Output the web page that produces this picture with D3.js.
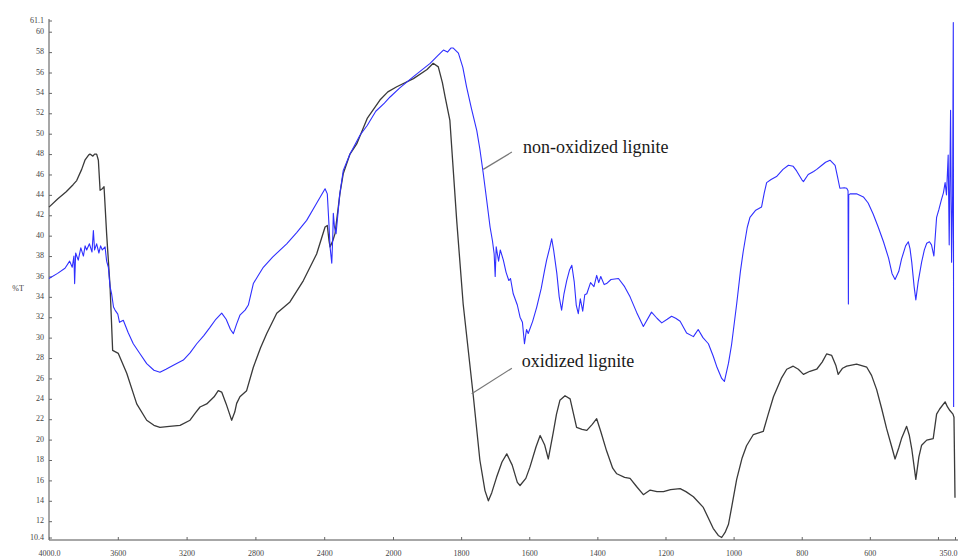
<!DOCTYPE html>
<html>
<head>
<meta charset="utf-8">
<script src="https://cdn.jsdelivr.net/npm/d3@7"></script>
<style>
  body { margin: 0; background: #fff; }
  svg { display: block; font-family: "Liberation Serif", "Times New Roman", serif; }
</style>
</head>
<body>
<div id="graph"></div>
<script>
//wavenumbers and %T
let blueWn = [4000,3950,3907,3880,3865,3855,3851,3845,3830,3815,3800,3790,3781,3765,3750,3742,3735,3723,3710,3700,3690,3674,3665,3655,3645,3636,3625,3616,3600,3590,3568,3540,3510,3470,3432,3390,3355,3320,3277,3219,3180,3141,3100,3064,3030,2996,2970,2945,2928,2910,2890,2860,2841,2812,2780,2754,2700,2618,2560,2502,2450,2395,2382,2372,2366,2356,2350,2347,2340,2331,2310,2289,2250,2192,2150,2100,2050,2017,1980,1940,1891,1870,1852,1840,1830,1823,1808,1795,1784,1770,1754,1745,1735,1725,1715,1708,1703,1700,1697,1690,1685,1676,1668,1660,1655,1647,1635,1627,1620,1614,1608,1603,1590,1578,1565,1555,1549,1540,1534,1528,1519,1512,1505,1498,1490,1482,1475,1468,1462,1456,1450,1443,1437,1431,1420,1410,1402,1396,1390,1380,1373,1360,1338,1320,1304,1285,1265,1241,1225,1211,1195,1182,1170,1157,1138,1118,1104,1090,1074,1060,1050,1035,1027,1015,1006,991,980,972,960,952,935,918,910,903,890,874,855,839,825,815,800,795,781,765,756,741,730,717,702,695,688,675,668,664,663,662,658,639,619,605,590,575,560,545,535,526,515,507,495,487,482,477,470,465,458,448,440,433,425,419,412,404,397,390,384,379,375,370,367,363,360,357,355,354];
let blueT = [35.8,36.3,36.8,37.5,36.9,38.0,35.3,38.3,37.6,38.8,38.0,39.0,38.6,39.2,38.4,40.5,38.6,39.2,38.3,39.0,38.6,38.9,37.5,36.9,35.0,34.3,33.0,32.7,32.3,31.5,31.7,30.5,29.4,28.4,27.45,26.8,26.6,26.9,27.3,27.8,28.5,29.4,30.2,31.0,31.8,32.4,31.8,30.8,30.4,31.3,32.2,32.7,33.2,35.3,36.2,36.9,37.9,39.2,40.3,41.5,43.0,44.6,44.1,41.0,38.9,37.3,40.0,42.2,40.8,40.2,44.0,46.4,48.0,49.85,50.8,52.2,53.0,53.6,54.5,55.6,56.9,57.6,58.2,58.0,58.4,58.4,57.9,56.5,54.6,52.5,50.3,48.5,46.1,43.5,40.85,39.5,38.2,36.0,38.9,37.5,38.6,37.6,36.4,35.6,35.8,34.3,33.2,32.0,31.5,29.4,30.8,30.4,31.6,33.0,34.8,36.6,37.6,38.8,39.7,38.5,36.3,34.0,32.7,34.3,35.6,36.6,37.1,35.5,33.2,32.35,33.8,32.6,34.2,34.3,35.4,35.0,36.1,35.4,36.0,35.2,35.3,35.7,35.8,35.0,34.0,32.5,31.1,32.5,31.9,31.45,31.8,32.1,31.9,31.6,30.45,30.1,30.8,30.0,29.4,28.2,27.2,26.0,25.7,27.5,29.3,33.3,36.5,38.4,40.8,41.8,42.5,42.8,44.2,45.2,45.5,45.8,46.5,46.9,46.8,46.35,45.5,45.3,46.0,46.3,46.5,46.9,47.2,47.4,46.9,45.8,44.65,44.7,44.65,44.4,33.3,44.0,44.1,44.1,43.8,43.2,42.1,40.8,39.4,37.8,36.3,35.7,36.5,37.7,39.0,39.4,38.7,37.4,35.0,33.7,35.5,37.4,38.6,39.25,39.4,39.1,38.0,41.8,42.6,43.5,44.2,45.2,44.0,47.9,39.1,52.3,37.4,44.0,60.9,23.2];

let blackWn = [4000,3950,3900,3860,3839,3810,3791,3770,3762,3745,3735,3723,3713,3703,3690,3680,3665,3645,3630,3597,3548,3490,3432,3390,3355,3300,3238,3180,3150,3122,3083,3040,3016,2996,2970,2950,2938,2920,2909,2890,2851,2812,2770,2734,2676,2599,2521,2444,2395,2382,2372,2366,2350,2337,2308,2289,2250,2211,2150,2076,2030,1989,1940,1900,1882,1867,1855,1847,1833,1813,1794,1764,1745,1730,1720,1710,1696,1680,1666,1650,1635,1627,1610,1598,1580,1568,1555,1544,1530,1520,1510,1495,1480,1461,1445,1431,1415,1402,1390,1373,1355,1343,1320,1304,1285,1265,1245,1225,1206,1185,1157,1140,1118,1089,1060,1045,1035,1025,1015,1005,991,975,962,942,913,900,883,860,844,825,810,795,776,756,740,727,712,700,693,680,668,639,609,595,580,565,551,535,526,515,507,492,484,477,465,456,448,433,414,404,395,379,372,365,356,353,351,350];
let blackT = [42.8,43.6,44.3,45.0,45.4,46.5,47.4,47.9,48.0,47.8,48.0,48.0,47.4,44.45,44.6,44.8,40.2,35.0,28.75,28.45,26.5,23.5,21.9,21.4,21.2,21.3,21.4,21.9,22.6,23.2,23.5,24.2,24.8,24.66,23.5,22.5,21.9,22.7,23.55,24.2,24.8,27.1,29.0,30.4,32.4,33.5,35.6,38.2,40.85,41.0,39.5,38.9,39.5,40.2,44.2,46.1,48.0,49.0,51.5,53.3,54.1,54.6,55.4,56.3,56.9,56.55,55.0,53.6,51.3,41.5,33.3,24.2,18.0,15.0,14.0,14.8,16.3,17.8,18.6,17.5,15.8,15.5,16.2,17.3,19.3,20.4,19.5,18.1,20.6,22.5,23.85,24.3,24.0,21.2,21.0,20.9,21.5,22.05,20.8,18.9,17.2,16.65,16.3,16.2,15.4,14.6,15.05,14.9,14.9,15.1,15.2,14.9,14.4,13.35,11.3,10.6,10.4,10.9,11.7,13.5,16.1,18.2,19.4,20.5,20.8,22.3,24.2,26.0,26.9,27.2,26.9,26.4,26.7,26.9,27.6,28.4,28.25,27.3,26.4,27.0,27.2,27.4,27.1,26.3,24.9,23.0,21.1,19.2,18.1,19.2,20.1,21.3,20.4,19.1,16.1,18.3,19.45,19.95,20.1,22.5,23.0,23.7,23.2,22.85,22.5,22.2,17.0,14.3];

//axis ticks (x scale changes at 2000)
let xTicks = [4000,3600,3200,2800,2400,2000,1800,1600,1400,1200,1000,800,600,400,350];
let xTickLabels = ["4000.0","3600","3200","2800","2400","2000","1800","1600","1400","1200","1000","800","600","","350.0"];
let yTicks = [10.4,12,14,16,18,20,22,24,26,28,30,32,34,36,38,40,42,44,46,48,50,52,54,56,58,60,61.1];

let width = 958, height = 560;

let svg = d3.select("#graph")
    .append("svg")
    .attr("width", width)
    .attr("height", height);

//x scale: two linear pieces joined at 2000 cm-1
let x = d3.scaleLinear()
    .domain([4000, 2000, 350])
    .range([49, 393, 955]);

let y = d3.scaleLinear()
    .domain([10.4, 61.1])
    .range([537.5, 20.5]);

//x axis
let xAxis = svg.append("g")
    .attr("transform", "translate(0,540)")
    .call(d3.axisBottom(x)
        .tickValues(xTicks)
        .tickFormat(function(d, i) { return xTickLabels[i] })
        .tickSize(-3)
        .tickSizeOuter(0)
        .tickPadding(10));

//y axis
let yAxis = svg.append("g")
    .attr("transform", "translate(49,0)")
    .call(d3.axisLeft(y)
        .tickValues(yTicks)
        .tickFormat(function(d) { return d == 10.4 || d == 61.1 ? d.toFixed(1) : d })
        .tickSize(-3)
        .tickSizeOuter(0)
        .tickPadding(5));

svg.selectAll(".domain").attr("stroke", "#8a8a8a").attr("stroke-width", 1.5);
svg.selectAll(".tick line").attr("stroke", "#666");
svg.selectAll(".tick text")
    .attr("fill", "#444")
    .style("font-family", "Liberation Serif")
    .style("font-size", "8px");
yAxis.selectAll(".tick text").attr("dy", "0.2em");
xAxis.select(".domain").attr("d", "M49,0H958");
yAxis.select(".domain").attr("d", "M0,540V19");

//last label sits against the right edge
xAxis.selectAll(".tick text")
    .filter(function(d) { return d == 350 })
    .attr("text-anchor", "end")
    .attr("x", 957 - x(350));

//%T label
svg.append("text")
    .attr("x", 18)
    .attr("y", 291)
    .style("text-anchor", "middle")
    .style("font-size", "8px")
    .attr("fill", "#444")
    .text("%T");

//lines
let line = d3.line()
    .x(function(d) { return x(d[0]) })
    .y(function(d) { return y(d[1]) });

svg.append("path")
    .datum(blackWn.map(function(d, i) { return [d, blackT[i]] }))
    .attr("fill", "none")
    .attr("stroke", "#3a3a3a")
    .attr("stroke-width", 1.3)
    .attr("stroke-linejoin", "round")
    .attr("d", line);

svg.append("path")
    .datum(blueWn.map(function(d, i) { return [d, blueT[i]] }))
    .attr("fill", "none")
    .attr("stroke", "#2f2fff")
    .attr("stroke-width", 1.1)
    .attr("stroke-linejoin", "round")
    .attr("d", line);

//annotations
let notes = [
    {text: "non-oxidized lignite", tx: 1618, ty: 48.06, from: [1735, 46.5], to: [1651, 48.2]},
    {text: "oxidized lignite", tx: 1622, ty: 27.14, from: [1769, 24.5], to: [1651, 27.0]}
];

notes.forEach(function(n) {
    svg.append("line")
        .attr("x1", x(n.from[0])).attr("y1", y(n.from[1]))
        .attr("x2", x(n.to[0])).attr("y2", y(n.to[1]))
        .attr("stroke", "#777")
        .attr("stroke-width", 1.2);
    svg.append("text")
        .attr("x", x(n.tx))
        .attr("y", y(n.ty))
        .style("font-size", "18px")
        .attr("fill", "#1a1a1a")
        .text(n.text);
});
</script>
</body>
</html>
